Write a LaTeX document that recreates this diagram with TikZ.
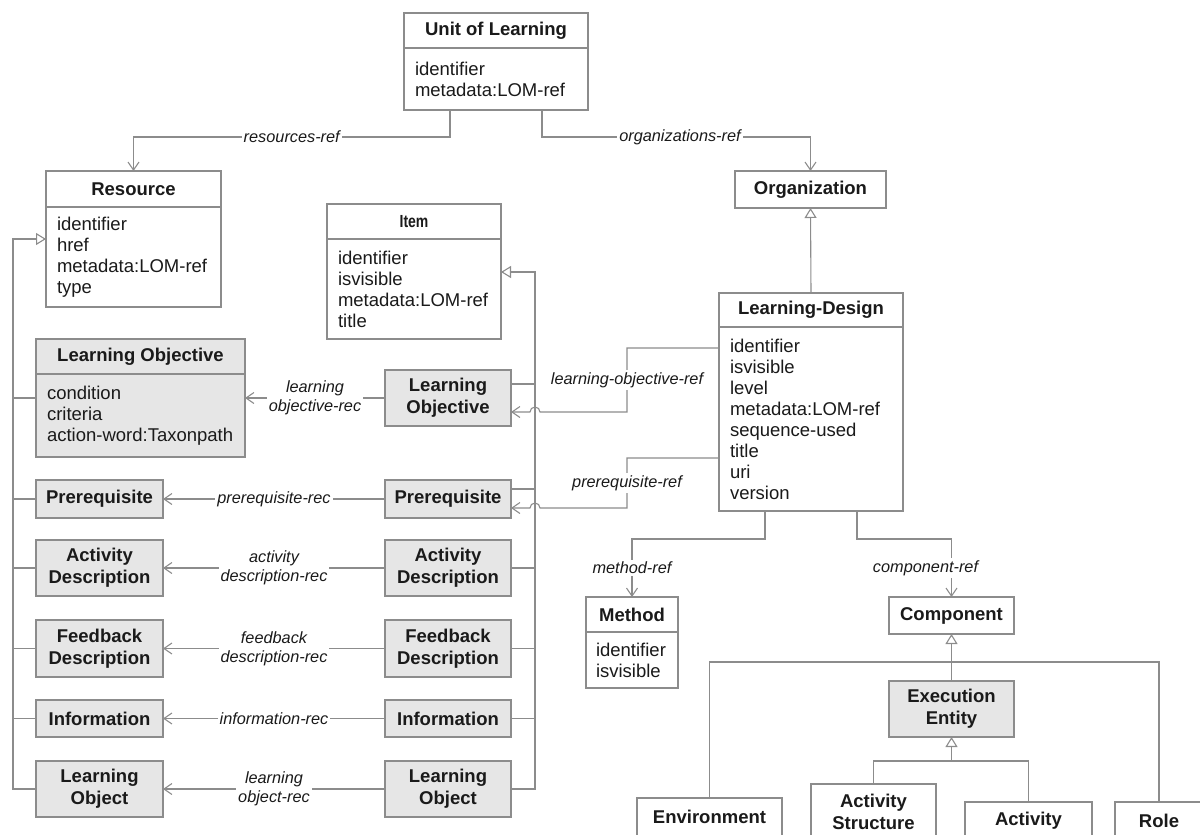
\documentclass[tikz,border=0pt]{standalone}
\usepackage{fontspec}
\setmainfont{Liberation Sans}
\usepackage{tikz}
\usetikzlibrary{arrows.meta, positioning}
\definecolor{linegray}{HTML}{8C8C8C}
\definecolor{boxgray}{HTML}{E6E6E6}
\definecolor{txt}{HTML}{1A1A1A}

\begin{document}
\begin{tikzpicture}[x=1pt, y=-1pt]
\tikzset{every node/.style={text=txt, outer sep=0pt}}
\tikzset{cls/.style={draw=linegray, line width=1.1pt, fill=white, font=\fontsize{18.5}{22}\selectfont\bfseries, inner sep=0pt, align=center}}
\tikzset{gcls/.style={cls, fill=boxgray}}
\tikzset{attr/.style={draw=linegray, line width=1.1pt, fill=white, font=\fontsize{18.5}{21}\selectfont, inner xsep=11pt, inner ysep=0pt, align=left}}
\tikzset{conn/.style={draw=linegray, line width=1.1pt}}
\tikzset{ref/.style={conn, -{Straight Barb[length=8pt, width=11pt]}}}
\tikzset{gen/.style={conn, -{Triangle[open, length=10pt, width=12pt]}}}
\tikzset{lbl/.style={fill=white, inner sep=2pt, font=\fontsize{16.3}{19}\selectfont\itshape, align=center}}
\useasboundingbox (0,0) rectangle (1200,835);

\node[cls, minimum width=184pt, minimum height=35pt] (uol) at (496,30.5) {Unit of Learning};
\node[attr, text width=162pt, minimum height=62pt, below=0pt of uol] (uolA) {identifier\\metadata:LOM-ref};
\node[cls, minimum width=175pt, minimum height=36pt] (res) at (133.5,189) {Resource};
\node[attr, text width=153pt, minimum height=100pt, below=0pt of res] (resA) {identifier\\href\\metadata:LOM-ref\\type};
\node[cls, minimum width=174pt, minimum height=35pt, font=\fontsize{17.5}{21}\selectfont\bfseries\addfontfeatures{FakeStretch=0.8}] (item) at (414,221.5) {Item};
\node[attr, text width=152pt, minimum height=100pt, below=0pt of item] (itemA) {identifier\\isvisible\\metadata:LOM-ref\\title};
\node[cls, minimum width=151pt, minimum height=37pt] (org) at (810.5,189.5) {Organization};
\node[cls, minimum width=184pt, minimum height=34pt] (ld) at (811,310) {Learning-Design};
\node[attr, text width=162pt, minimum height=184pt, below=0pt of ld] (ldA) {identifier\\isvisible\\level\\metadata:LOM-ref\\sequence-used\\title\\uri\\version};
\node[cls, minimum width=92pt, minimum height=35pt] (meth) at (632,614.5) {Method};
\node[attr, text width=72pt, inner xsep=10pt, minimum height=56pt, below=0pt of meth] (methA) {identifier\\isvisible};
\node[cls, minimum width=125pt, minimum height=37pt] (comp) at (951.5,615.5) {Component};
\node[gcls, minimum width=125pt, minimum height=56pt] (ee) at (951.5,709) {Execution\\Entity};
\node[cls, minimum width=145pt, minimum height=38pt] (env) at (709.5,817) {Environment};
\node[cls, minimum width=125pt, minimum height=56pt] (as) at (873.5,812) {Activity\\Structure};
\node[cls, minimum width=127pt, minimum height=38pt] (act) at (1028.5,821) {Activity};
\node[cls, minimum width=88pt, minimum height=38pt] (role) at (1159,821) {Role};

\node[gcls, minimum width=209pt, minimum height=35pt] (loL) at (140.5,356.5) {Learning Objective};
\node[attr, fill=boxgray, text width=187pt, minimum height=83pt, below=0pt of loL] (loLA) {condition\\criteria\\action-word:Taxonpath};
\node[gcls, minimum width=127pt, minimum height=38pt] (prL) at (99.5,499) {Prerequisite};
\node[gcls, minimum width=127pt, minimum height=56pt] (adL) at (99.5,568) {Activity\\Description};
\node[gcls, minimum width=127pt, minimum height=57pt] (fdL) at (99.5,648.5) {Feedback\\Description};
\node[gcls, minimum width=127pt, minimum height=37pt] (infL) at (99.5,718.5) {Information};
\node[gcls, minimum width=127pt, minimum height=56pt] (lobL) at (99.5,789) {Learning\\Object};

\node[gcls, minimum width=126pt, minimum height=56pt] (loR) at (448,398) {Learning\\Objective};
\node[gcls, minimum width=126pt, minimum height=38pt] (prR) at (448,499) {Prerequisite};
\node[gcls, minimum width=126pt, minimum height=56pt] (adR) at (448,568) {Activity\\Description};
\node[gcls, minimum width=126pt, minimum height=57pt] (fdR) at (448,648.5) {Feedback\\Description};
\node[gcls, minimum width=126pt, minimum height=37pt] (infR) at (448,718.5) {Information};
\node[gcls, minimum width=126pt, minimum height=56pt] (lobR) at (448,789) {Learning\\Object};

\draw[ref] ([xshift=-46pt]uolA.south) -- ++(0,27) -| node[lbl, pos=0.25] {resources-ref} (res.north);
\draw[ref] ([xshift=46pt]uolA.south) -- ++(0,27) -| node[lbl, pos=0.257] {organizations-ref} (org.north);
\draw[gen] (ld.north) -- (org.south);

\coordinate (lbus) at (13,239);
\draw[gen] (lobL.west) -| (lbus) -- (lbus -| resA.west);
\foreach \n in {prL, adL, fdL, infL} \draw[conn] (\n.west) -- (\n.west -| lbus);
\draw[conn] (loLA.west |- loR.west) -- (lbus |- loR.west);

\coordinate (rbus) at (535,272);
\draw[gen] (lobR.east) -| (rbus) -- (rbus -| itemA.east);
\foreach \n in {adR, fdR, infR} \draw[conn] (\n.east) -- (\n.east -| rbus);
\draw[conn] ([yshift=14pt]loR.east) -- ++(24,0);
\draw[conn] ([yshift=10pt]prR.east) -- ++(24,0);

\draw[ref] (loR.west) -- node[lbl] {learning\\objective-rec} (loR.west -| loLA.east);
\draw[ref] (prR.west) -- node[lbl] {prerequisite-rec} (prL.east);
\draw[ref] (adR.west) -- node[lbl] {activity\\description-rec} (adL.east);
\draw[ref] (fdR.west) -- node[lbl] {feedback\\description-rec} (fdL.east);
\draw[ref] (infR.west) -- node[lbl] {information-rec} (infL.east);
\draw[ref] (lobR.west) -- node[lbl] {learning\\object-rec} (lobL.east);

\draw[ref] ([yshift=71pt]ldA.west) -- ++(-92,0) -- node[lbl] {learning-objective-ref} ++(0,64) -- ++(-87,0) arc[start angle=0, end angle=180, radius=5pt] -- ([yshift=-14pt]loR.east);
\draw[ref] ([yshift=-39pt]ldA.west) -- ++(-92,0) -- node[lbl] {prerequisite-ref} ++(0,50) -- ++(-87,0) arc[start angle=0, end angle=180, radius=5pt] -- ([yshift=-9pt]prR.east);

\draw[ref] ([xshift=-46pt]ldA.south) -- ++(0,28) -| node[lbl, pos=0.75] {method-ref} (meth.north);
\draw[ref] ([xshift=46pt]ldA.south) -- ++(0,28) -| node[lbl, pos=0.75, xshift=-26pt] {component-ref} (comp.north);

\draw[conn] (env.north) |- ([yshift=-28pt]comp.south) -| (role.north);
\draw[gen] (ee.north) -- (comp.south);
\draw[conn] (as.north) |- ([yshift=-24pt]ee.south) -| (act.north);
\draw[gen] ([yshift=-24pt]ee.south) -- (ee.south);
\end{tikzpicture}
\end{document}
